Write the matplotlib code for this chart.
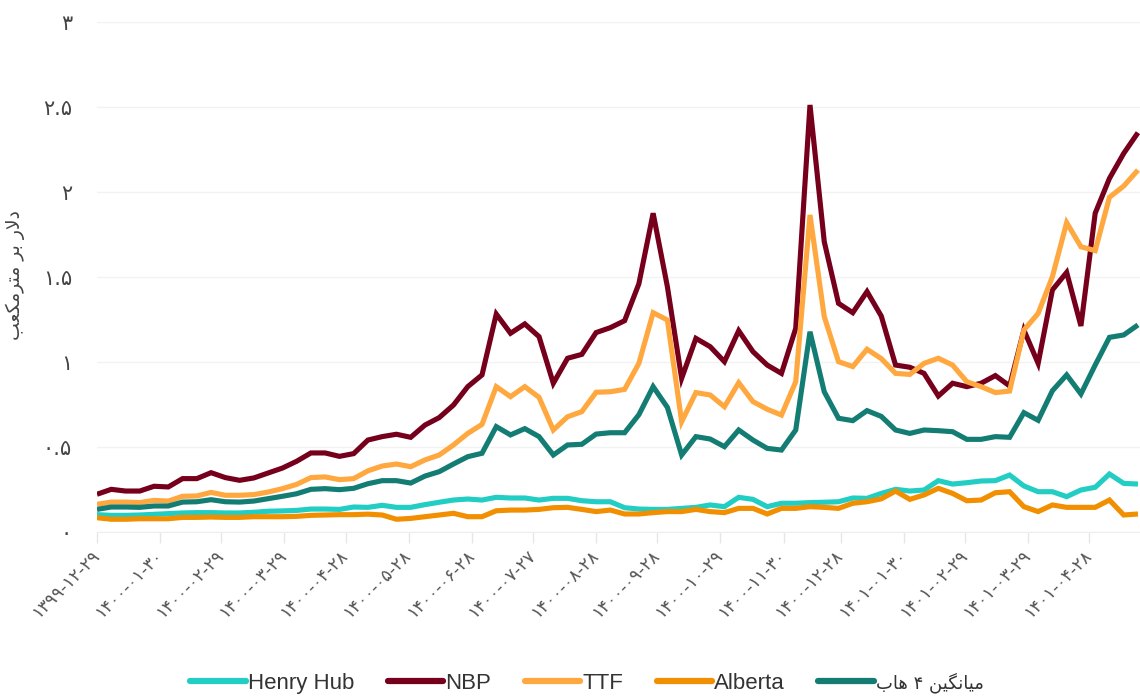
import matplotlib
matplotlib.use("Agg")
import matplotlib.pyplot as plt
import matplotlib.dates as mdates
from matplotlib import font_manager
import numpy as np
import pandas as pd

# ---------------- data ----------------
start_date = "2021-03-19"
n_weeks = 74
dates = pd.date_range(start_date, periods=n_weeks, freq="7D")

henry_hub = [0.102, 0.098, 0.098, 0.100, 0.104, 0.108, 0.112, 0.114, 0.114, 0.112,
             0.112, 0.116, 0.122, 0.124, 0.127, 0.135, 0.135, 0.133, 0.147, 0.145,
             0.157, 0.145, 0.145, 0.161, 0.175, 0.188, 0.194, 0.188, 0.204, 0.200,
             0.200, 0.188, 0.198, 0.198, 0.184, 0.178, 0.178, 0.143, 0.135, 0.133,
             0.133, 0.139, 0.145, 0.159, 0.149, 0.204, 0.192, 0.149, 0.169, 0.169,
             0.173, 0.175, 0.178, 0.200, 0.198, 0.227, 0.251, 0.241, 0.247, 0.302,
             0.282, 0.290, 0.300, 0.302, 0.335, 0.271, 0.237, 0.237, 0.208, 0.247,
             0.263, 0.341, 0.286, 0.282]

nbp = [0.222, 0.251, 0.241, 0.241, 0.269, 0.265, 0.314, 0.314, 0.349, 0.320,
       0.304, 0.318, 0.347, 0.376, 0.416, 0.465, 0.465, 0.445, 0.461, 0.541,
       0.561, 0.575, 0.557, 0.629, 0.673, 0.747, 0.855, 0.924, 1.282, 1.169,
       1.224, 1.149, 0.875, 1.022, 1.045, 1.173, 1.202, 1.243, 1.460, 1.875,
       1.443, 0.904, 1.139, 1.090, 1.002, 1.184, 1.061, 0.982, 0.933, 1.198,
       2.512, 1.708, 1.345, 1.290, 1.414, 1.270, 0.982, 0.969, 0.933, 0.800,
       0.875, 0.855, 0.875, 0.920, 0.859, 1.188, 0.992, 1.424, 1.527, 1.212,
       1.875, 2.080, 2.227, 2.349]

ttf = [0.163, 0.176, 0.176, 0.173, 0.186, 0.182, 0.210, 0.212, 0.233, 0.216,
       0.216, 0.220, 0.235, 0.255, 0.280, 0.320, 0.324, 0.308, 0.314, 0.360,
       0.388, 0.400, 0.384, 0.424, 0.453, 0.512, 0.580, 0.633, 0.855, 0.796,
       0.855, 0.792, 0.600, 0.678, 0.708, 0.822, 0.825, 0.839, 0.992, 1.290,
       1.247, 0.649, 0.820, 0.806, 0.737, 0.878, 0.767, 0.722, 0.688, 0.884,
       1.865, 1.267, 1.002, 0.973, 1.075, 1.020, 0.933, 0.927, 0.992, 1.022,
       0.982, 0.884, 0.855, 0.820, 0.829, 1.188, 1.286, 1.502, 1.820, 1.678,
       1.655, 1.969, 2.035, 2.129]

alberta = [0.084, 0.075, 0.075, 0.078, 0.078, 0.078, 0.086, 0.086, 0.088, 0.086,
           0.086, 0.090, 0.090, 0.090, 0.092, 0.098, 0.100, 0.102, 0.102, 0.105,
           0.100, 0.075, 0.080, 0.090, 0.100, 0.110, 0.090, 0.090, 0.125, 0.129,
           0.129, 0.133, 0.143, 0.145, 0.133, 0.120, 0.129, 0.106, 0.106, 0.114,
           0.120, 0.120, 0.133, 0.120, 0.114, 0.139, 0.139, 0.106, 0.139, 0.139,
           0.149, 0.145, 0.139, 0.169, 0.178, 0.195, 0.241, 0.192, 0.218, 0.257,
           0.227, 0.184, 0.188, 0.231, 0.237, 0.149, 0.120, 0.159, 0.145, 0.145,
           0.145, 0.188, 0.100, 0.106]

avg_4hub = [0.133, 0.147, 0.147, 0.145, 0.153, 0.153, 0.176, 0.178, 0.190, 0.178,
            0.176, 0.182, 0.196, 0.210, 0.225, 0.251, 0.255, 0.249, 0.257, 0.284,
            0.302, 0.302, 0.288, 0.329, 0.355, 0.400, 0.443, 0.463, 0.620, 0.571,
            0.608, 0.561, 0.453, 0.512, 0.516, 0.576, 0.584, 0.584, 0.690, 0.855,
            0.733, 0.453, 0.561, 0.547, 0.502, 0.600, 0.541, 0.492, 0.482, 0.600,
            1.178, 0.825, 0.669, 0.655, 0.714, 0.680, 0.600, 0.580, 0.600, 0.596,
            0.590, 0.545, 0.545, 0.561, 0.557, 0.702, 0.657, 0.831, 0.924, 0.812,
            0.982, 1.145, 1.159, 1.218]

tick_dates = ["2021-03-19", "2021-04-19", "2021-05-19", "2021-06-19", "2021-07-19",
              "2021-08-19", "2021-09-19", "2021-10-19", "2021-11-19", "2021-12-19",
              "2022-01-19", "2022-02-19", "2022-03-19", "2022-04-19", "2022-05-19",
              "2022-06-19", "2022-07-19"]
tick_labels = ["۱۳۹۹-۱۲-۲۹", "۱۴۰۰-۰۱-۳۰", "۱۴۰۰-۰۲-۲۹", "۱۴۰۰-۰۳-۲۹", "۱۴۰۰-۰۴-۲۸",
               "۱۴۰۰-۰۵-۲۸", "۱۴۰۰-۰۶-۲۸", "۱۴۰۰-۰۷-۲۷", "۱۴۰۰-۰۸-۲۸", "۱۴۰۰-۰۹-۲۸",
               "۱۴۰۰-۱۰-۲۹", "۱۴۰۰-۱۱-۳۰", "۱۴۰۰-۱۲-۲۸", "۱۴۰۱-۰۱-۳۰", "۱۴۰۱-۰۲-۲۹",
               "۱۴۰۱-۰۳-۲۹", "۱۴۰۱-۰۴-۲۸"]

y_ticks = [0, 0.5, 1, 1.5, 2, 2.5, 3]
y_tick_labels = ["۰", "۰.۵", "۱", "۱.۵", "۲", "۲.۵", "۳"]

# Persian strings in visual (shaped) order, since matplotlib has no bidi shaping
y_title = "\uFE90\uFECC\uFB91\uFEE3\uFEAE\uFE98\uFEE3 \uFEAE\uFE91 \uFEAD\uFEFB\uFEA9"  # دلار بر مترمکعب
avg_name = "\uFE8F\uFE8E\uFEEB \u06F4 \uFEE6\uFBFF\uFB95\uFEE7\uFE8E\uFBFF\uFEE3"      # میانگین ۴ هاب

series_names = ["Henry Hub", "NBP", "TTF", "Alberta", avg_name]
series_colors = ["#22cdc3", "#76001c", "#ffa83f", "#f18f01", "#137d74"]

# ---------------- figure ----------------
available = {f.name for f in font_manager.fontManager.ttflist}
legend_family = ["Liberation Sans Narrow", "DejaVu Sans"] if "Liberation Sans Narrow" in available else ["Liberation Sans", "DejaVu Sans"]

fig = plt.figure(figsize=(11.4, 7.0), dpi=100)
ax = fig.add_axes([97 / 1140, (700 - 532) / 700, (1140 - 97) / 1140, 510 / 700])

series = [henry_hub, nbp, ttf, alberta, avg_4hub]
lines = []
for vals, name, col in zip(series, series_names, series_colors):
    ln, = ax.plot(dates, vals, color=col, lw=3.7, solid_joinstyle="miter",
                  solid_capstyle="butt", label=name, zorder=3)
    lines.append(ln)

ax.set_ylim(0, 3)
ax.set_xlim(pd.Timestamp(start_date), pd.Timestamp(start_date) + pd.Timedelta(days=512))

ax.set_yticks(y_ticks)
ax.set_yticklabels(y_tick_labels, family=["DejaVu Sans"], fontsize=15, color="#444444")
ax.tick_params(axis="y", length=0, pad=18)

ax.set_xticks([mdates.date2num(pd.Timestamp(d)) for d in tick_dates])
ax.set_xticklabels(tick_labels, family=["DejaVu Sans"], fontsize=12.5, color="#555555",
                   rotation=45, ha="right", rotation_mode="anchor", va="center")
ax.tick_params(axis="x", length=8, color="#e6e6e6", width=1, pad=7)

ax.grid(axis="y", color="#f2f2f2", lw=1)
ax.set_axisbelow(True)
for s in ["top", "right", "left"]:
    ax.spines[s].set_visible(False)
ax.spines["bottom"].set_color("#eeeeee")

fig.text(15 / 1140, 1 - 275 / 700, y_title, rotation=90, ha="center", va="center",
         family=["DejaVu Sans"], fontsize=13.5, color="#444444")

leg = fig.legend(handles=lines, labels=series_names, loc="center",
                 bbox_to_anchor=(0.515, 1 - 683 / 700), ncol=5, frameon=False,
                 handlelength=2.5, handletextpad=0.1, columnspacing=1.5,
                 prop={"family": legend_family, "size": 16})
for t in leg.get_texts():
    t.set_color("#333333")
leg.get_texts()[-1].set_family(["DejaVu Sans"])
leg.get_texts()[-1].set_fontsize(13)
for h in leg.legend_handles:
    h.set_linewidth(4.5)
    h.set_solid_capstyle("round")

fig.savefig("out.png", dpi=100, facecolor="white")
